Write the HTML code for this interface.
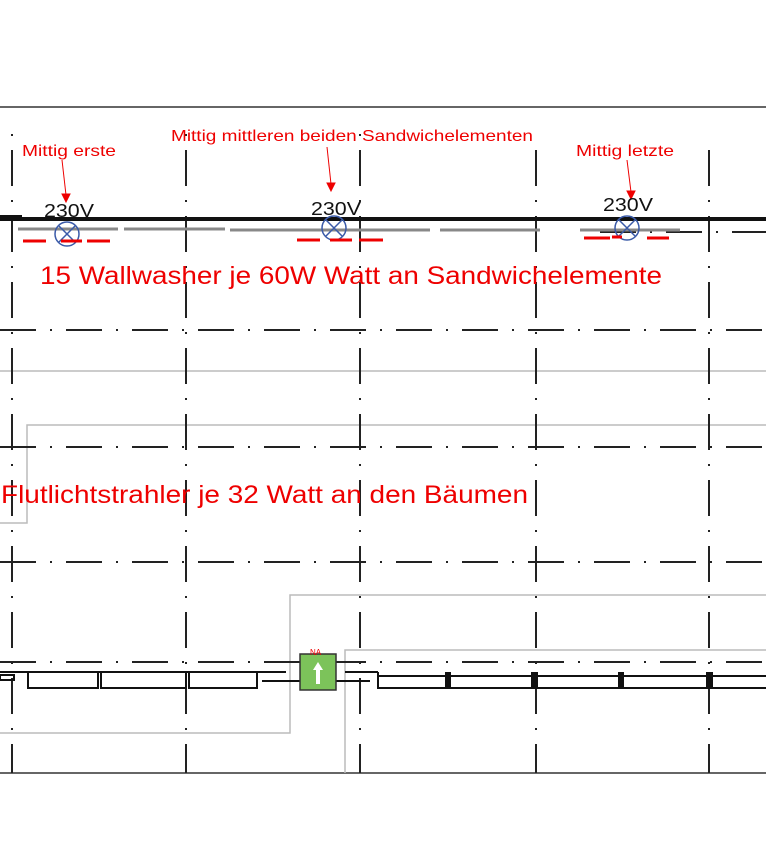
<!DOCTYPE html>
<html><head><meta charset="utf-8"><style>
html,body{margin:0;padding:0;background:#fff;}
svg{display:block;}
text{font-family:"Liberation Sans",sans-serif;}
</style></head><body>
<svg width="766" height="867" viewBox="0 0 766 867" xmlns="http://www.w3.org/2000/svg">
<rect width="766" height="867" fill="#fff"/>
<line x1="0" y1="107" x2="766" y2="107" stroke="#333" stroke-width="1.5"/>
<line x1="0" y1="773" x2="766" y2="773" stroke="#333" stroke-width="1.5"/>
<g stroke="#bbb" stroke-width="1.5" fill="none">
<line x1="0" y1="371" x2="766" y2="371"/>
<polyline points="766,425 27,425 27,523 0,523"/>
<polyline points="0,733 290,733 290,595 766,595"/>
<polyline points="345,773 345,650 766,650"/>
</g>
<g stroke="#222" stroke-width="2" stroke-dasharray="36 14 2 14" fill="none">
<line x1="0" y1="330" x2="766" y2="330"/>
<line x1="0" y1="447" x2="766" y2="447"/>
<line x1="0" y1="562" x2="766" y2="562"/>
<line x1="0" y1="662" x2="766" y2="662"/>
<line x1="600" y1="232" x2="766" y2="232"/>
<line x1="12" y1="130" x2="12" y2="773" stroke-dashoffset="-20"/>
<line x1="186" y1="130" x2="186" y2="773" stroke-dashoffset="-20"/>
<line x1="360" y1="130" x2="360" y2="773" stroke-dashoffset="-20"/>
<line x1="536" y1="140" x2="536" y2="773" stroke-dashoffset="-10"/>
<line x1="709" y1="140" x2="709" y2="773" stroke-dashoffset="-10"/>
</g>
<line x1="0" y1="219" x2="766" y2="219" stroke="#111" stroke-width="4"/>
<rect x="0" y="215" width="22" height="6" fill="#111"/>
<g stroke="#888" stroke-width="3">
<line x1="18" y1="229" x2="118" y2="229"/>
<line x1="124" y1="229" x2="225" y2="229"/>
<line x1="230" y1="230" x2="430" y2="230"/>
<line x1="440" y1="230" x2="540" y2="230"/>
<line x1="580" y1="230" x2="680" y2="230"/>
</g>
<g stroke="#3a5aa8" stroke-width="1.5" fill="none">
<circle cx="67" cy="234" r="12"/><line x1="59" y1="226" x2="75" y2="242"/><line x1="75" y1="226" x2="59" y2="242"/>
<circle cx="334" cy="228" r="12"/><line x1="326" y1="220" x2="342" y2="236"/><line x1="342" y1="220" x2="326" y2="236"/>
<circle cx="627" cy="228" r="12"/><line x1="619" y1="220" x2="635" y2="236"/><line x1="635" y1="220" x2="619" y2="236"/>
</g>
<g stroke="#e00" stroke-width="3">
<line x1="23" y1="241" x2="46" y2="241"/><line x1="61" y1="241" x2="82" y2="241"/><line x1="87" y1="241" x2="110" y2="241"/>
<line x1="297" y1="240" x2="320" y2="240"/><line x1="330" y1="240" x2="352" y2="240"/><line x1="359" y1="240" x2="383" y2="240"/>
<line x1="584" y1="238" x2="610" y2="238"/><line x1="612" y1="237" x2="622" y2="237"/><line x1="647" y1="238" x2="669" y2="238"/>
</g>
<g stroke="#e00" stroke-width="1" fill="#e00">
<line x1="62" y1="160" x2="66" y2="195"/><polygon points="62,194 70,194 66,202"/>
<line x1="327" y1="147" x2="331" y2="184"/><polygon points="327,183 335,183 331,191"/>
<line x1="627" y1="160" x2="631" y2="192"/><polygon points="627,191 635,191 631,199"/>
</g>
<text x="22" y="156" font-size="16" fill="#e00" textLength="94" lengthAdjust="spacingAndGlyphs">Mittig erste</text>
<text x="171" y="141" font-size="16" fill="#e00" textLength="362" lengthAdjust="spacingAndGlyphs">Mittig mittleren beiden Sandwichelementen</text>
<text x="576" y="156" font-size="16" fill="#e00" textLength="98" lengthAdjust="spacingAndGlyphs">Mittig letzte</text>
<text x="44" y="217" font-size="18" fill="#111" textLength="50" lengthAdjust="spacingAndGlyphs">230V</text>
<text x="311" y="215" font-size="18" fill="#111" textLength="50" lengthAdjust="spacingAndGlyphs">230V</text>
<text x="603" y="211" font-size="18" fill="#111" textLength="50" lengthAdjust="spacingAndGlyphs">230V</text>
<text x="40" y="284" font-size="25" fill="#e00" textLength="622" lengthAdjust="spacingAndGlyphs">15 Wallwasher je 60W Watt an Sandwichelemente</text>
<text x="1" y="503" font-size="25" fill="#e00" textLength="527" lengthAdjust="spacingAndGlyphs">Flutlichtstrahler je 32 Watt an den Bäumen</text>
<g stroke="#111" stroke-width="2" fill="none">
<line x1="0" y1="672" x2="260" y2="672"/>
<polyline points="28,672 28,688 98,688 98,672"/>
<polyline points="101,672 101,688 186,688 186,672"/>
<polyline points="189,672 189,688 257,688 257,672"/>
<line x1="257" y1="672" x2="286" y2="672"/>
<line x1="262" y1="681" x2="300" y2="681"/>
<line x1="336" y1="681" x2="370" y2="681"/>
<line x1="345" y1="672" x2="378" y2="672"/>
<polyline points="378,672 378,688 766,688"/>
<line x1="378" y1="676" x2="766" y2="676"/>
<rect x="0" y="675" width="14" height="5"/>
</g>
<g fill="#111">
<rect x="445" y="672" width="6" height="17"/><rect x="531" y="672" width="7" height="17"/>
<rect x="618" y="672" width="6" height="17"/><rect x="706" y="672" width="7" height="17"/>
</g>
<rect x="300" y="654" width="36" height="36" fill="#7cc35a" stroke="#333" stroke-width="1.5"/>
<polygon points="318,662 313,670 316,670 316,684 320,684 320,670 323,670" fill="#fff"/>
<text x="310" y="655" font-size="8" fill="#e00">NA</text>
</svg>
</body></html>
